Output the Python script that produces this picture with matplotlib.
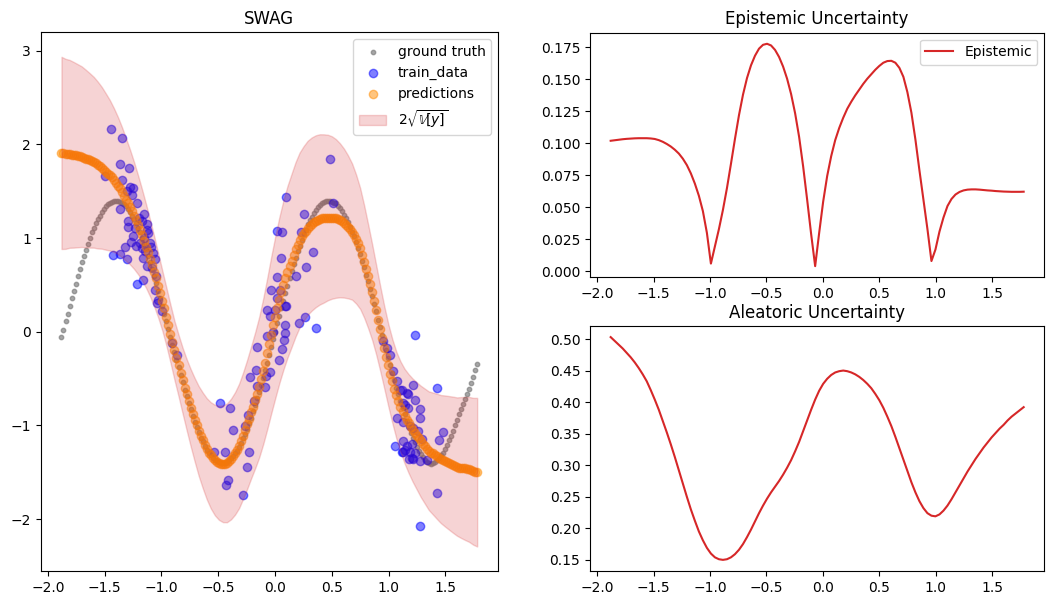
import matplotlib
matplotlib.use('Agg')
import matplotlib.pyplot as plt
import numpy as np

# range of the input grid
x_lo, x_hi = -1.88, 1.78

# ground truth, read on a fine grid (207 points)
ground_truth = [
    -0.06, 0.02, 0.11, 0.19, 0.27, 0.36, 0.44, 0.51, 0.59, 0.67,
    0.74, 0.81, 0.87, 0.94, 1.00, 1.06, 1.11, 1.16, 1.20, 1.24,
    1.28, 1.31, 1.34, 1.36, 1.38, 1.39, 1.40, 1.40, 1.40, 1.39,
    1.38, 1.36, 1.34, 1.31, 1.28, 1.24, 1.20, 1.16, 1.11, 1.06,
    1.00, 0.94, 0.88, 0.81, 0.74, 0.67, 0.59, 0.52, 0.44, 0.36,
    0.28, 0.19, 0.11, 0.03, -0.06, -0.14, -0.22, -0.30, -0.38, -0.46,
    -0.54, -0.62, -0.69, -0.76, -0.83, -0.90, -0.96, -1.02, -1.07, -1.13,
    -1.17, -1.22, -1.26, -1.29, -1.32, -1.35, -1.37, -1.38, -1.39, -1.40,
    -1.40, -1.40, -1.39, -1.37, -1.35, -1.33, -1.30, -1.27, -1.23, -1.19,
    -1.14, -1.09, -1.04, -0.98, -0.92, -0.85, -0.78, -0.71, -0.64, -0.57,
    -0.49, -0.41, -0.33, -0.25, -0.16, -0.08, 0.00, 0.09, 0.17, 0.25,
    0.33, 0.41, 0.49, 0.57, 0.65, 0.72, 0.79, 0.86, 0.92, 0.98,
    1.04, 1.09, 1.15, 1.19, 1.23, 1.27, 1.30, 1.33, 1.35, 1.37,
    1.39, 1.40, 1.40, 1.40, 1.39, 1.38, 1.37, 1.34, 1.32, 1.29,
    1.25, 1.21, 1.17, 1.12, 1.07, 1.02, 0.96, 0.89, 0.83, 0.76,
    0.69, 0.61, 0.54, 0.46, 0.38, 0.30, 0.22, 0.13, 0.05, -0.03,
    -0.12, -0.20, -0.28, -0.36, -0.44, -0.52, -0.60, -0.67, -0.74, -0.81,
    -0.88, -0.95, -1.02, -1.08, -1.13, -1.18, -1.23, -1.27, -1.31, -1.34,
    -1.37, -1.39, -1.40, -1.41, -1.40, -1.39, -1.37, -1.35, -1.32, -1.29,
    -1.25, -1.21, -1.16, -1.11, -1.06, -1.00, -0.94, -0.88, -0.82, -0.77,
    -0.72, -0.67, -0.61, -0.55, -0.48, -0.41, -0.34]

# SWAG mean prediction on the same fine grid
predictions = [
    1.91, 1.91, 1.90, 1.90, 1.90, 1.89, 1.89, 1.89, 1.88, 1.88,
    1.87, 1.86, 1.85, 1.84, 1.83, 1.82, 1.81, 1.80, 1.78, 1.77,
    1.75, 1.73, 1.71, 1.69, 1.67, 1.65, 1.62, 1.59, 1.56, 1.53,
    1.49, 1.45, 1.41, 1.37, 1.33, 1.29, 1.24, 1.19, 1.14, 1.09,
    1.03, 0.97, 0.91, 0.85, 0.78, 0.71, 0.64, 0.57, 0.49, 0.41,
    0.33, 0.25, 0.16, 0.07, -0.02, -0.11, -0.20, -0.28, -0.36, -0.44,
    -0.52, -0.60, -0.67, -0.74, -0.81, -0.88, -0.94, -1.00, -1.06, -1.11,
    -1.16, -1.21, -1.25, -1.29, -1.32, -1.35, -1.37, -1.39, -1.40, -1.41,
    -1.41, -1.41, -1.40, -1.38, -1.36, -1.33, -1.30, -1.26, -1.22, -1.17,
    -1.11, -1.05, -0.99, -0.93, -0.86, -0.80, -0.73, -0.66, -0.59, -0.51,
    -0.42, -0.33, -0.23, -0.13, -0.03, 0.07, 0.16, 0.25, 0.34, 0.42,
    0.50, 0.57, 0.64, 0.70, 0.76, 0.82, 0.88, 0.93, 0.98, 1.02,
    1.05, 1.08, 1.11, 1.13, 1.15, 1.17, 1.18, 1.19, 1.20, 1.21,
    1.21, 1.22, 1.22, 1.22, 1.22, 1.22, 1.21, 1.20, 1.19, 1.18,
    1.16, 1.14, 1.12, 1.10, 1.07, 1.03, 0.99, 0.95, 0.89, 0.82,
    0.75, 0.67, 0.59, 0.51, 0.42, 0.33, 0.23, 0.13, 0.03, -0.07,
    -0.17, -0.27, -0.36, -0.45, -0.53, -0.61, -0.68, -0.74, -0.80, -0.85,
    -0.90, -0.94, -0.98, -1.02, -1.05, -1.08, -1.11, -1.14, -1.17, -1.20,
    -1.22, -1.25, -1.27, -1.29, -1.30, -1.32, -1.33, -1.35, -1.36, -1.37,
    -1.38, -1.39, -1.40, -1.41, -1.42, -1.43, -1.44, -1.45, -1.45, -1.46,
    -1.46, -1.47, -1.47, -1.48, -1.49, -1.50, -1.50]

# uncertainties (std), every second point of the fine grid (104 points)
epistemic = [
    0.1020, 0.1024, 0.1028, 0.1032, 0.1035, 0.1037, 0.1039, 0.1040, 0.1040, 0.1040,
    0.1038, 0.1034, 0.1025, 0.1012, 0.0995, 0.0975, 0.0950, 0.0920, 0.0880, 0.0830,
    0.0765, 0.0685, 0.0590, 0.0470, 0.0300, 0.0060, 0.0195, 0.0330, 0.0480, 0.0650,
    0.0840, 0.1035, 0.1220, 0.1380, 0.1510, 0.1610, 0.1685, 0.1740, 0.1770, 0.1778,
    0.1765, 0.1730, 0.1675, 0.1600, 0.1505, 0.1385, 0.1235, 0.1050, 0.0820, 0.0560,
    0.0290, 0.0040, 0.0300, 0.0545, 0.0745, 0.0900, 0.1025, 0.1120, 0.1200, 0.1270,
    0.1325, 0.1375, 0.1420, 0.1465, 0.1505, 0.1540, 0.1575, 0.1605, 0.1630, 0.1643,
    0.1645, 0.1630, 0.1590, 0.1520, 0.1400, 0.1240, 0.1030, 0.0790, 0.0560, 0.0330,
    0.0080, 0.0170, 0.0310, 0.0420, 0.0510, 0.0565, 0.0600, 0.0620, 0.0632, 0.0638,
    0.0640, 0.0640, 0.0638, 0.0635, 0.0632, 0.0630, 0.0627, 0.0625, 0.0623, 0.0622,
    0.0621, 0.0621, 0.0621, 0.0622]

aleatoric = [
    0.503, 0.497, 0.491, 0.485, 0.478, 0.471, 0.463, 0.454, 0.444, 0.433,
    0.419, 0.404, 0.388, 0.370, 0.352, 0.333, 0.313, 0.292, 0.271, 0.250,
    0.230, 0.212, 0.195, 0.181, 0.169, 0.160, 0.154, 0.151, 0.150, 0.151,
    0.154, 0.159, 0.166, 0.175, 0.186, 0.198, 0.211, 0.224, 0.236, 0.247,
    0.257, 0.266, 0.275, 0.285, 0.296, 0.308, 0.322, 0.337, 0.354, 0.371,
    0.388, 0.404, 0.418, 0.429, 0.437, 0.443, 0.447, 0.449, 0.450, 0.449,
    0.447, 0.444, 0.440, 0.435, 0.429, 0.422, 0.413, 0.403, 0.391, 0.377,
    0.362, 0.345, 0.327, 0.309, 0.291, 0.273, 0.257, 0.243, 0.232, 0.224,
    0.220, 0.219, 0.222, 0.228, 0.236, 0.246, 0.257, 0.268, 0.279, 0.290,
    0.300, 0.310, 0.319, 0.328, 0.336, 0.344, 0.351, 0.358, 0.364, 0.371,
    0.377, 0.382, 0.387, 0.392]

# noisy training samples
train_x = [
    -1.445, -1.345, -1.498, -1.366, -1.286, -1.345, -1.278, -1.248, -1.307, -1.263,
    -1.219, -1.366, -1.152, -1.293, -1.174, -1.298, -1.233, -1.130, -1.116, -1.248,
    -1.269, -1.189, -1.322, -1.174, -1.145, -1.425, -1.366, -1.307, -1.072, -1.057,
    -1.160, -1.130, -1.086, -1.219, -1.160, -1.057, -1.028, -1.200, -1.100, -1.150,
    -1.220, -1.090, -1.130, -1.050, -1.042, -0.998, -0.910, -0.861,
    0.485, 0.094, 0.514, 0.258, 0.020, 0.059, 0.229, 0.338, 0.056, 0.276,
    0.020, 0.182, -0.035, 0.044, -0.073, 0.088, -0.044, 0.000, 0.264, 0.214,
    0.361, 0.088, -0.015, -0.073, 0.088, 0.079, -0.161, 0.059, 0.035, -0.044,
    -0.079, -0.220, -0.156, -0.088, -0.182, -0.485, -0.400, -0.235, -0.264, -0.373,
    -0.537, -0.440, -0.226, -0.244, -0.411, -0.432, -0.279, -0.167, 0.015, 0.097,
    1.233, 1.425, 1.213, 0.954, 0.984, 1.013, 1.042, 1.072, 1.116, 1.175,
    1.233, 1.145, 1.175, 1.278, 1.278, 1.072, 1.130, 1.190, 1.218, 1.263,
    1.292, 1.483, 1.448, 1.130, 1.160, 1.204, 1.130, 1.190, 1.233, 1.183,
    1.218, 1.278, 1.336, 1.430, 1.278, 1.057, 1.116, 1.160, 1.101, 1.130,
    1.145, 1.204]
train_y = [
    2.17, 2.07, 1.66, 1.79, 1.75, 1.62, 1.55, 1.54, 1.50, 1.46,
    1.37, 1.31, 1.26, 1.18, 1.18, 1.12, 1.11, 1.09, 1.05, 1.02,
    0.96, 0.95, 0.91, 0.89, 0.86, 0.82, 0.83, 0.78, 0.84, 0.78,
    0.79, 0.70, 0.68, 0.51, 0.55, 0.45, 0.34, 1.22, 0.95, 1.00,
    0.92, 0.90, 1.15, 0.60, 0.31, 0.22, -0.12, -0.25,
    1.84, 1.44, 1.38, 1.26, 1.08, 1.07, 1.06, 0.85, 0.79, 0.69,
    0.58, 0.59, 0.45, 0.45, 0.23, 0.28, 0.17, 0.23, 0.16, 0.09,
    0.04, 0.07, 0.00, -0.05, -0.01, -0.09, -0.16, -0.18, -0.30, -0.43,
    -0.47, -0.48, -0.58, -0.59, -0.74, -0.76, -0.81, -0.89, -1.01, -1.05,
    -1.28, -1.28, -1.28, -1.44, -1.58, -1.64, -1.74, -0.41, 0.36, 0.28,
    -0.04, -0.60, -0.57, -0.10, -0.17, -0.25, -0.42, -0.53, -0.62, -0.67,
    -0.73, -0.78, -0.81, -0.83, -0.92, -0.92, -0.96, -1.01, -1.03, -1.06,
    -1.15, -1.07, -1.16, -1.17, -1.22, -1.20, -1.28, -1.28, -1.29, -1.36,
    -1.36, -1.38, -1.37, -1.72, -2.08, -1.22, -1.28, -0.65, -0.62, -0.76,
    -1.26, -1.35]

x_fine = np.linspace(x_lo, x_hi, len(predictions))
x_gt = np.linspace(x_lo, x_hi, len(ground_truth))
x_unc = x_fine[::2]

pred = np.array(predictions)
epi = np.array(epistemic)
ale = np.array(aleatoric)
spread = 2 * np.sqrt(epi ** 2 + ale ** 2)
lower = pred[::2] - spread
upper = pred[::2] + spread

fig = plt.figure(figsize=(10.57, 6.05), dpi=100)
ax = fig.add_axes([0.0385, 0.0562, 0.4326, 0.8904])
ax_epi = fig.add_axes([0.5582, 0.5417, 0.4298, 0.4043])
ax_ale = fig.add_axes([0.5582, 0.0562, 0.4298, 0.4050])

ax.scatter(x_gt, ground_truth, s=10, color='gray', alpha=0.7, label='ground truth')
ax.scatter(train_x, train_y, color='blue', alpha=0.5, label='train_data')
ax.scatter(x_fine, predictions, color='darkorange', alpha=0.5, label='predictions')
ax.fill_between(x_unc, lower, upper, color='tab:red', alpha=0.2,
                label=r'$2\sqrt{\mathbb{V}[y]}$')
ax.set_title('SWAG')
ax.legend(loc='upper right')

ax_epi.plot(x_unc, epistemic, color='tab:red', label='Epistemic')
ax_epi.set_title('Epistemic Uncertainty')
ax_epi.legend(loc='upper right')

ax_ale.plot(x_unc, aleatoric, color='tab:red')
ax_ale.set_title('Aleatoric Uncertainty')

fig.savefig('out.png', dpi=100)
